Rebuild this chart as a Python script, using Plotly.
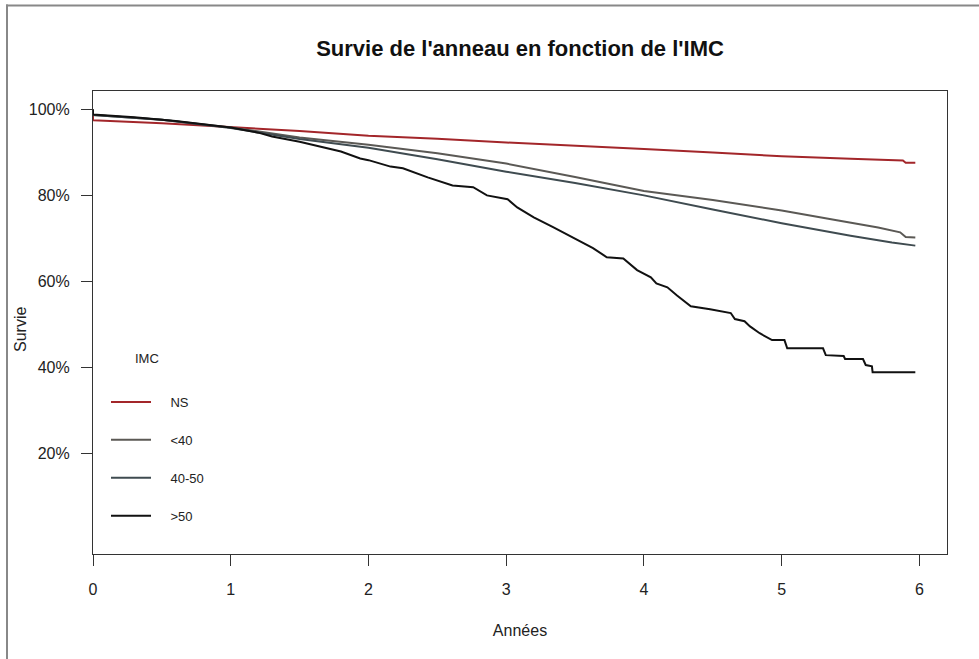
import plotly.graph_objects as go

# ---- data ----
series_names = ["NS", "<40", "40-50", ">50"]
series_colors = ["#a3262a", "#5b5955", "#3f4b50", "#111111"]

ns_t = [0, 0, 0.5, 1.0, 1.5, 2.0, 2.5, 3.0, 3.5, 4.0, 4.5, 5.0, 5.5, 5.88, 5.9, 5.97]
ns_s = [1.0, 0.975, 0.968, 0.959, 0.950, 0.939, 0.932, 0.923, 0.916, 0.908, 0.900, 0.891, 0.885, 0.881, 0.876, 0.876]

lt40_t = [0, 0, 0.5, 1.0, 1.5, 2.0, 2.5, 3.0, 3.5, 4.0, 4.5, 5.0, 5.4, 5.7, 5.86, 5.9, 5.97]
lt40_s = [1.0, 0.987, 0.976, 0.958, 0.935, 0.918, 0.898, 0.874, 0.843, 0.810, 0.789, 0.765, 0.742, 0.725, 0.714, 0.703, 0.702]

m4050_t = [0, 0, 0.5, 1.0, 1.5, 2.0, 2.5, 3.0, 3.5, 4.0, 4.5, 5.0, 5.5, 5.8, 5.97]
m4050_s = [1.0, 0.987, 0.976, 0.957, 0.931, 0.911, 0.884, 0.855, 0.829, 0.800, 0.767, 0.735, 0.706, 0.690, 0.683]

gt50_t = [0, 0, 0.3, 0.6, 1.0, 1.2, 1.3, 1.5, 1.8, 1.94, 2.0, 2.16, 2.25, 2.43, 2.61, 2.76, 2.86,
          3.01, 3.08, 3.20, 3.34, 3.49, 3.63, 3.73, 3.85, 3.95, 4.05, 4.09, 4.17, 4.24, 4.31,
          4.34, 4.48, 4.63, 4.66, 4.73, 4.77, 4.84, 4.93, 5.02, 5.04, 5.30, 5.32, 5.45, 5.46,
          5.59, 5.61, 5.655, 5.66, 5.97]
gt50_s = [1.0, 0.988, 0.982, 0.973, 0.958, 0.946, 0.937, 0.925, 0.902, 0.886, 0.882, 0.867, 0.863, 0.842, 0.823, 0.819, 0.800,
          0.791, 0.772, 0.749, 0.726, 0.700, 0.677, 0.656, 0.653, 0.626, 0.609, 0.595, 0.586, 0.567, 0.549,
          0.542, 0.535, 0.526, 0.512, 0.507, 0.495, 0.479, 0.463, 0.463, 0.444, 0.444, 0.428, 0.426, 0.419,
          0.419, 0.405, 0.402, 0.388, 0.388]

x_tick_vals = [0, 1, 2, 3, 4, 5, 6]
y_tick_vals = [0.2, 0.4, 0.6, 0.8, 1.0]
y_tick_text = ["20%", "40%", "60%", "80%", "100%"]

title_text = "Survie de l'anneau en fonction de l'IMC"
x_title = "Années"
y_title = "Survie"
legend_title = "IMC"

# ---- figure ----
FONT = "Liberation Sans, Arial, Helvetica, sans-serif"
fig = go.Figure()
all_t = [ns_t, lt40_t, m4050_t, gt50_t]
all_s = [ns_s, lt40_s, m4050_s, gt50_s]
for name, col, t, s in zip(series_names, series_colors, all_t, all_s):
    fig.add_trace(go.Scatter(
        x=t, y=s, mode="lines", name="\u00a0\u00a0\u00a0\u00a0" + name, legendgroup=name,
        line=dict(color=col, width=2, shape="linear"),
        hoverinfo="x+y",
    ))

W, H = 979, 659
L, R, T, B = 93, 32, 91, 105
pw, ph = W - L - R, H - T - B

def px(xp):
    return (xp - L) / pw

def py(yp):
    return (H - B - yp) / ph

fig.update_layout(
    width=W, height=H,
    margin=dict(l=L, r=R, t=T, b=B, autoexpand=False),
    paper_bgcolor="white", plot_bgcolor="white",
    font=dict(family=FONT, color="#222222", size=16),
    title=dict(text="<b>" + title_text + "</b>", x=0.5, xref="paper", xanchor="center",
               y=1 - 48 / H, yanchor="middle", font=dict(size=22, color="#111111")),
    showlegend=True,
    legend=dict(
        x=px(106), xanchor="left", y=py(387), yanchor="top",
        bgcolor="rgba(0,0,0,0)",
        font=dict(size=13, color="#222222"),
        itemwidth=40, tracegroupgap=18,
        traceorder="grouped",
    ),
    annotations=[
        dict(text=legend_title, xref="paper", yref="paper", x=px(147), y=py(358),
             xanchor="center", yanchor="middle", showarrow=False,
             font=dict(size=13, color="#222222")),
        dict(text=y_title, xref="paper", yref="paper", x=px(20), y=py(330),
             xanchor="center", yanchor="middle", textangle=-90, showarrow=False,
             font=dict(size=16, color="#222222")),
    ],
    xaxis=dict(
        range=[0, 6.2], tickvals=x_tick_vals, ticks="outside", ticklen=11,
        tickcolor="#333", tickwidth=1, showgrid=False, zeroline=False,
        showline=True, linecolor="#333", linewidth=1.2, mirror=True,
        tickfont=dict(size=16), ticklabelstandoff=10, automargin=False,
        title=dict(text=x_title, standoff=27, font=dict(size=16)),
    ),
    yaxis=dict(
        range=[-0.035, 1.043], tickvals=y_tick_vals, ticktext=y_tick_text,
        ticks="outside", ticklen=11, tickcolor="#333", tickwidth=1,
        showgrid=False, zeroline=False,
        showline=True, linecolor="#333", linewidth=1.2, mirror=True,
        tickfont=dict(size=16), ticklabelstandoff=8, automargin=False,
    ),
    shapes=[
        dict(type="line", xref="paper", yref="paper", x0=px(7), x1=px(7), y0=py(4.5), y1=py(H + 5),
             line=dict(color="#888888", width=2)),
        dict(type="line", xref="paper", yref="paper", x0=px(6), x1=px(W + 5), y0=py(5.5), y1=py(5.5),
             line=dict(color="#888888", width=2)),
    ],
)

fig.write_html("out.html", config={"displayModeBar": False},
               post_script="document.body.style.margin='0';document.body.style.overflow='hidden';")
